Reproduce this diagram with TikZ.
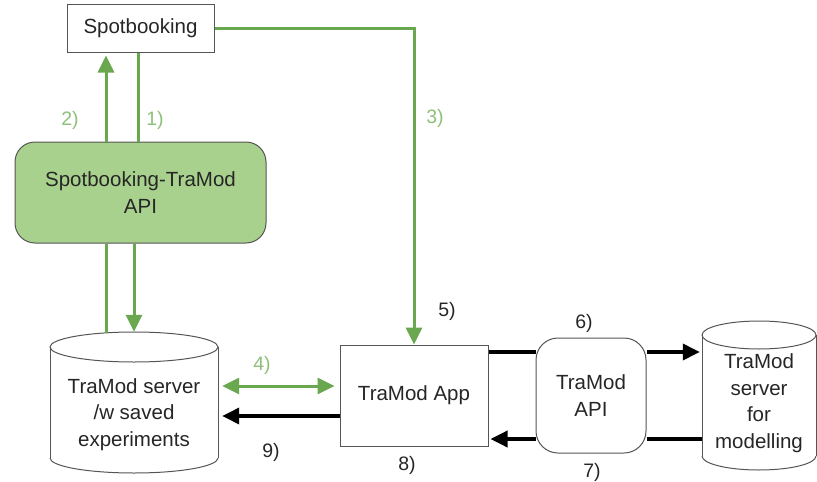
\documentclass[tikz,border=0pt]{standalone}
\usepackage{fontspec}
\setmainfont{Liberation Sans}
\usetikzlibrary{arrows.meta}
\definecolor{gline}{HTML}{6AA84F}
\definecolor{gfill}{HTML}{A9D18E}
\definecolor{glabel}{HTML}{8DC07A}
\definecolor{bord}{HTML}{555555}
\begin{document}
\begin{tikzpicture}[x=1pt,y=-1pt,
  txt/.style={font=\fontsize{20.5}{26.5}\selectfont, align=center, text=black!85},
  box/.style={draw=bord, line width=1pt, fill=white, txt, inner sep=0pt},
  cyl/.style={draw=bord, line width=1pt},
  gar/.style={draw=gline, line width=3pt, -{Triangle[length=17pt,width=16pt]}},
  gdbl/.style={draw=gline, line width=3pt, {Triangle[length=17pt,width=16pt]}-{Triangle[length=17pt,width=16pt]}},
  gln/.style={draw=gline, line width=3pt},
  bar/.style={draw=black, line width=3.5pt, -{Triangle[length=17pt,width=16pt]}},
  bln/.style={draw=black, line width=3.5pt},
  glab/.style={text=glabel, font=\fontsize{19.5}{23}\selectfont, inner sep=0pt},
  blab/.style={text=black!85, font=\fontsize{19.5}{23}\selectfont, inner sep=0pt}]
\useasboundingbox (0,0) rectangle (817,482);

% boxes
\node[box, minimum width=147pt, minimum height=48pt] (spot) at (140.5,28) {Spotbooking};
\node[box, fill=gfill, rounded corners=20pt, minimum width=251pt, minimum height=101pt] (sbapi) at (140.5,192.5) {Spotbooking-TraMod\\API};
\node[box, minimum width=148pt, minimum height=101pt] (app) at (414,395.5) {TraMod App};
\node[box, rounded corners=22pt, minimum width=110pt, minimum height=115pt] (api) at (591,395.5) {TraMod\\API};

% left cylinder
\fill[white] (50,347) rectangle (218,458);
\fill[white] (134,458) ellipse [x radius=84pt, y radius=15pt];
\begin{scope}
  \clip (40,458) rectangle (230,480);
  \draw[cyl] (134,458) ellipse [x radius=84pt, y radius=15pt];
\end{scope}
\draw[cyl, fill=white] (134,347) ellipse [x radius=84pt, y radius=15pt];
\draw[cyl] (50,347) -- (50,458);
\draw[cyl] (218,347) -- (218,458);
\node[minimum width=168pt, minimum height=141pt, inner sep=0pt] (sav) at (134,402.5) {};
\node[txt] (savt) at (134,414.5) {TraMod server\\/w saved\\experiments};

% right cylinder
\fill[white] (702,335) rectangle (816,456);
\fill[white] (759,456) ellipse [x radius=57pt, y radius=14pt];
\begin{scope}
  \clip (695,456) rectangle (817,482);
  \draw[cyl] (759,456) ellipse [x radius=57pt, y radius=14pt];
\end{scope}
\draw[cyl, fill=white] (759,335) ellipse [x radius=57pt, y radius=14pt];
\draw[cyl] (702,335) -- (702,456);
\draw[cyl] (816,335) -- (816,456);
\node[minimum width=114pt, minimum height=149pt, inner sep=0pt] (mod) at (759,395.5) {};
\node[txt] (modt) at (759,403) {TraMod\\server\\for\\modelling};

% green connectors
\draw[gar] ([xshift=-34.5pt]sbapi.north) -- ([xshift=-34.5pt,yshift=-3pt]spot.south);
\draw[gln] ([xshift=-2.5pt]spot.south) -- ([xshift=-2.5pt]sbapi.north);
\draw[gar] (spot.east) -| (app.north);
\draw[gln] ([xshift=-34.5pt]sbapi.south) -- ([xshift=-28pt,yshift=-1pt]sav.north);
\draw[gar] ([xshift=-6.5pt]sbapi.south) -- (sav.north);
\draw[gdbl] ([xshift=4pt,yshift=16.5pt]sav.east) -- ([xshift=-5pt,yshift=9.5pt]app.west);

% black connectors
\draw[bar] ([yshift=-20.5pt]app.west) -- ([xshift=4pt,yshift=-13.5pt]sav.east);
\draw[bln] ([yshift=43.5pt]app.east) -- ([yshift=43.5pt]api.west);
\draw[bar] ([yshift=43.5pt]api.east) -- ([xshift=-2pt,yshift=43.5pt]mod.west);
\draw[bln] ([yshift=-43.5pt]mod.west) -- ([yshift=-43.5pt]api.east);
\draw[bar] ([yshift=-43.5pt]api.west) -- ([xshift=2pt,yshift=-43.5pt]app.east);

% labels
\node[glab] (l2) at (70,120) {2)};
\node[glab] (l1) at (155,120) {1)};
\node[glab] (l3) at (435,118) {3)};
\node[glab] (l4) at (262,365) {4)};
\node[blab] (l5) at (447,311) {5)};
\node[blab] (l6) at (584,323) {6)};
\node[blab] (l7) at (592,472) {7)};
\node[blab] (l8) at (407,465) {8)};
\node[blab] (l9) at (271,452) {9)};
\end{tikzpicture}
\end{document}
